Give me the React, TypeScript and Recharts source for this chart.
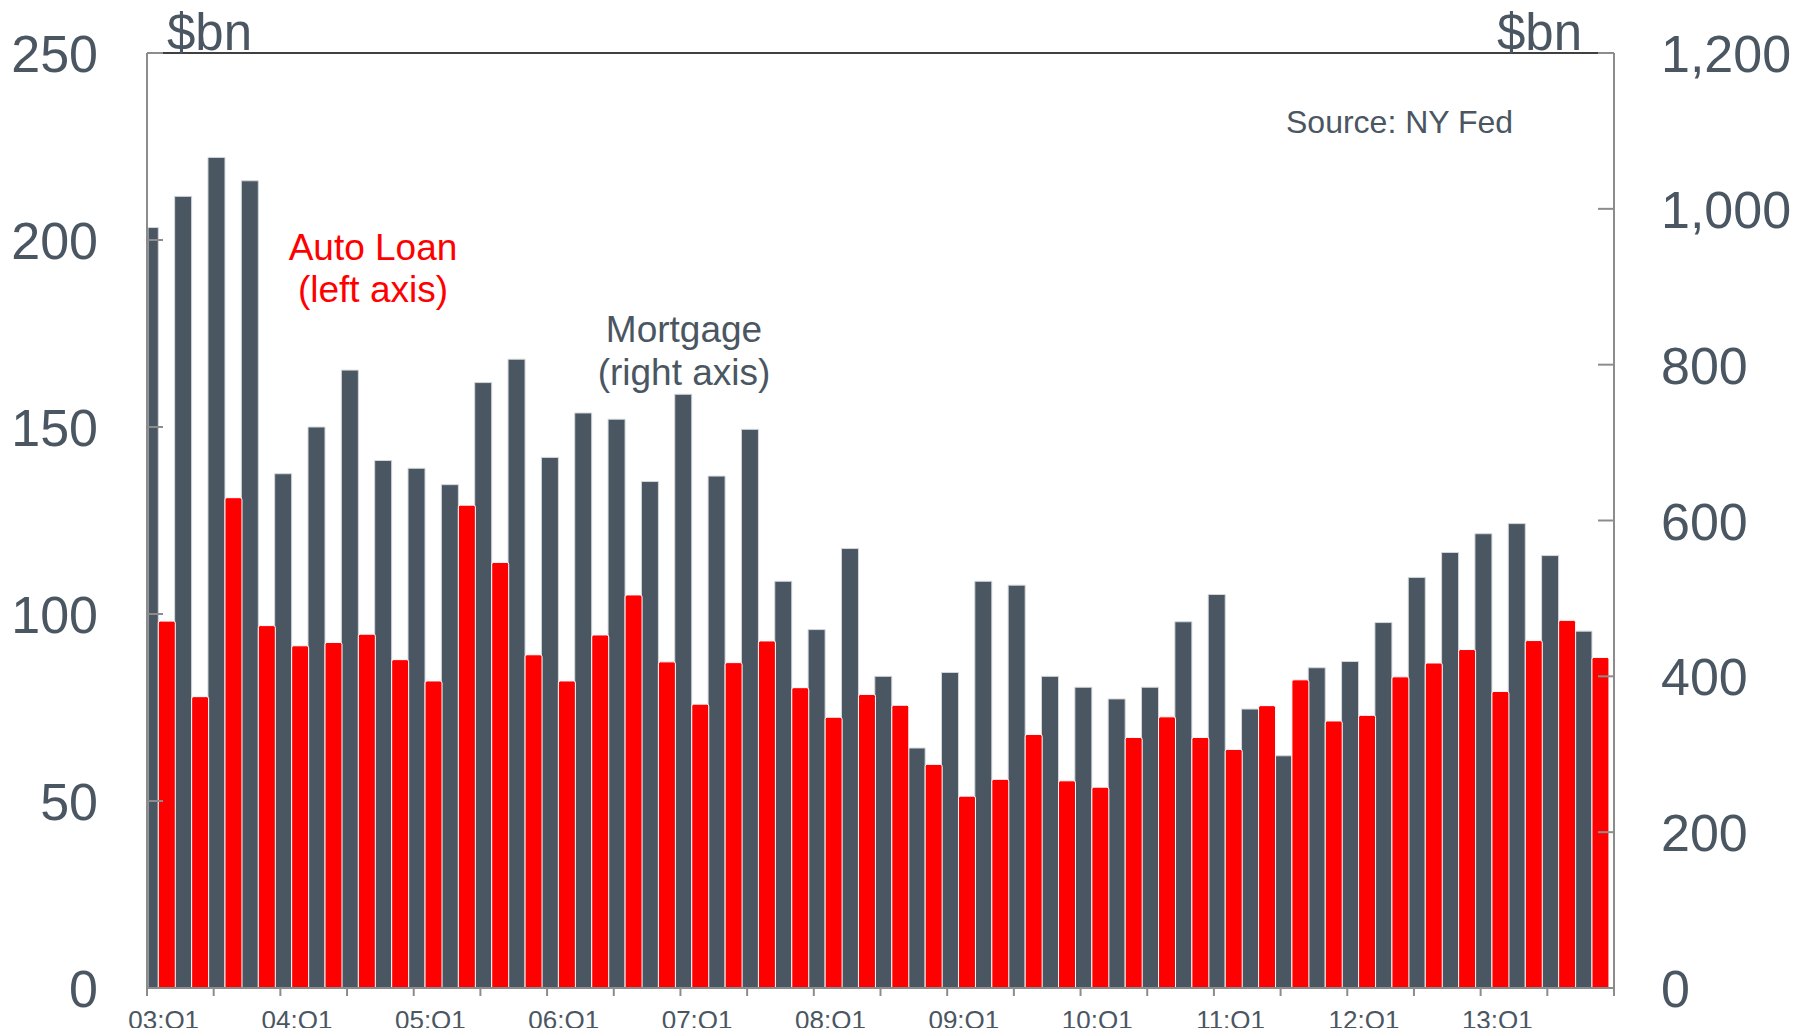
import React from 'react'
import { Bar, BarChart, Rectangle, ReferenceLine, XAxis, YAxis } from 'recharts'

const YEARS = ['03', '04', '05', '06', '07', '08', '09', '10', '11', '12', '13']
const QUARTERS = ['Q1', 'Q2', 'Q3', 'Q4']

// mortgage originations, $bn (right axis)
const MORTGAGE = [
  976, 1016, 1066, 1036, 660, 720, 793, 677, 667, 646, 777, 807,
  681, 738, 730, 650, 762, 657, 717, 522, 460, 564, 400, 308,
  405, 522, 517, 400, 386, 371, 386, 470, 505, 358, 298, 411,
  419, 469, 527, 559, 583, 596, 555, 458,
]

// auto loan originations, $bn (left axis)
const AUTO_LOAN = [
  98.1, 77.9, 131.1, 96.9, 91.5, 92.4, 94.6, 87.8, 82.1, 129.1, 113.8, 89.1,
  82.1, 94.4, 105.1, 87.2, 75.9, 87.0, 92.8, 80.3, 72.4, 78.5, 75.6, 59.8,
  51.3, 55.8, 67.8, 55.4, 53.7, 67.0, 72.5, 67.0, 63.8, 75.5, 82.4, 71.4,
  72.9, 83.2, 86.9, 90.5, 79.3, 92.9, 98.3, 88.4,
]

const LEFT_TICKS = [0, 50, 100, 150, 200, 250]
const RIGHT_TICKS = [0, 200, 400, 600, 800, 1000, 1200]

const data = YEARS.flatMap((y) => QUARTERS.map((q) => `${y}:${q}`)).map((quarter, i) => ({
  quarter,
  mortgage: MORTGAGE[i],
  auto: AUTO_LOAN[i],
}))

const W = 1796
const H = 1028
const BOX_H = 1020
const TOP = 45
const LEFT_W = 139
const RIGHT_W = 190
const X_H = 48
const PLOT_LEFT = LEFT_W
const BAND = (W - LEFT_W - RIGHT_W) / data.length
const SHIFT = 5.7

const FONT = '"Liberation Sans", Arial, sans-serif'
const SLATE = '#4a5661'
const RED = '#ff0000'
const AXIS = '#8c8c8c'

const fmt = new Intl.NumberFormat('en-US')

const XTick = (props) => {
  const { x, y, payload } = props
  const i = payload.index ?? props.index
  const left = x - BAND / 2
  return (
    <g>
      {i % 2 === 0 && <line x1={left} x2={left} y1={y} y2={y + 8} stroke={AXIS} strokeWidth={2} />}
      {i === data.length - 1 && (
        <line x1={x + BAND / 2} x2={x + BAND / 2} y1={y} y2={y + 8} stroke={AXIS} strokeWidth={2} />
      )}
      {String(payload.value).endsWith('Q1') && (
        <text x={x} y={y + 41} textAnchor="middle" fontSize={26} fontFamily={FONT} fill={SLATE}>
          {payload.value}
        </text>
      )}
    </g>
  )
}

const LeftTick = ({ x, y, payload }) => (
  <g>
    <line x1={x} x2={x + 16} y1={y} y2={y} stroke={AXIS} strokeWidth={2} />
    <text x={x - 49} y={y + 19} textAnchor="end" fontSize={52} fontFamily={FONT} fill={SLATE}>
      {payload.value}
    </text>
  </g>
)

const RightTick = ({ x, y, payload }) => (
  <g>
    <line x1={x} x2={x - 16} y1={y} y2={y} stroke={AXIS} strokeWidth={2} />
    <text x={x + 47} y={y + 19} textAnchor="start" fontSize={52} fontFamily={FONT} fill={SLATE}>
      {fmt.format(payload.value)}
    </text>
  </g>
)

const makeShape = (fill, stroke, radius) => (props) => {
  const { x, y, width, height } = props
  let nx = x - SHIFT
  let nw = width
  if (nx < PLOT_LEFT + 1) {
    nw -= PLOT_LEFT + 1 - nx
    nx = PLOT_LEFT + 1
  }
  return (
    <Rectangle x={nx} y={y} width={nw} height={height} fill={fill} stroke={stroke} strokeWidth={1} radius={radius} />
  )
}

const darkShape = makeShape(SLATE, '#d4d8db', 0)
const redShape = makeShape(RED, '#ffffff', [2, 2, 0, 0])

export default function App() {
  return (
    <div style={{ position: 'relative', width: W, height: BOX_H, overflow: 'visible' }}>
      <BarChart
        width={W}
        height={H}
        data={data}
        margin={{ top: TOP, right: 0, bottom: 0, left: 0 }}
        barCategoryGap={0}
        barGap={0}
      >
        <XAxis
          dataKey="quarter"
          height={X_H}
          interval={0}
          tickSize={0}
          tickMargin={0}
          tickLine={false}
          axisLine={{ stroke: AXIS, strokeWidth: 2 }}
          tick={XTick}
        />
        <YAxis
          yAxisId="left"
          width={LEFT_W}
          domain={[0, 250]}
          ticks={LEFT_TICKS}
          tickSize={0}
          tickMargin={0}
          tickLine={false}
          axisLine={{ stroke: AXIS, strokeWidth: 2 }}
          tick={LeftTick}
        />
        <YAxis
          yAxisId="right"
          orientation="right"
          width={RIGHT_W}
          domain={[0, 1200]}
          ticks={RIGHT_TICKS}
          tickSize={0}
          tickMargin={0}
          tickLine={false}
          axisLine={{ stroke: AXIS, strokeWidth: 2 }}
          tick={RightTick}
        />
        <ReferenceLine yAxisId="left" y={250} stroke="#000000" strokeWidth={1.5} />
        <Bar dataKey="mortgage" yAxisId="right" fill={SLATE} shape={darkShape} isAnimationActive={false} />
        <Bar dataKey="auto" yAxisId="left" fill={RED} shape={redShape} isAnimationActive={false} />
      </BarChart>
      <svg
        width={W}
        height={BOX_H}
        style={{ position: 'absolute', left: 0, top: 0, pointerEvents: 'none', overflow: 'visible' }}
        fontFamily={FONT}
      >
        <text x={159} y={42} fontSize={51} fill={SLATE}>$bn</text>
        <text x={1574} y={42} fontSize={51} fill={SLATE} textAnchor="end">$bn</text>
        <text x={1278} y={125} fontSize={32} fill={SLATE}>Source: NY Fed</text>
        <text x={365} y={252} fontSize={37} fill={RED} textAnchor="middle">Auto Loan</text>
        <text x={365} y={294} fontSize={37} fill={RED} textAnchor="middle">(left axis)</text>
        <text x={676} y={334} fontSize={37} fill={SLATE} textAnchor="middle">Mortgage</text>
        <text x={676} y={377} fontSize={37} fill={SLATE} textAnchor="middle">(right axis)</text>
      </svg>
    </div>
  )
}
